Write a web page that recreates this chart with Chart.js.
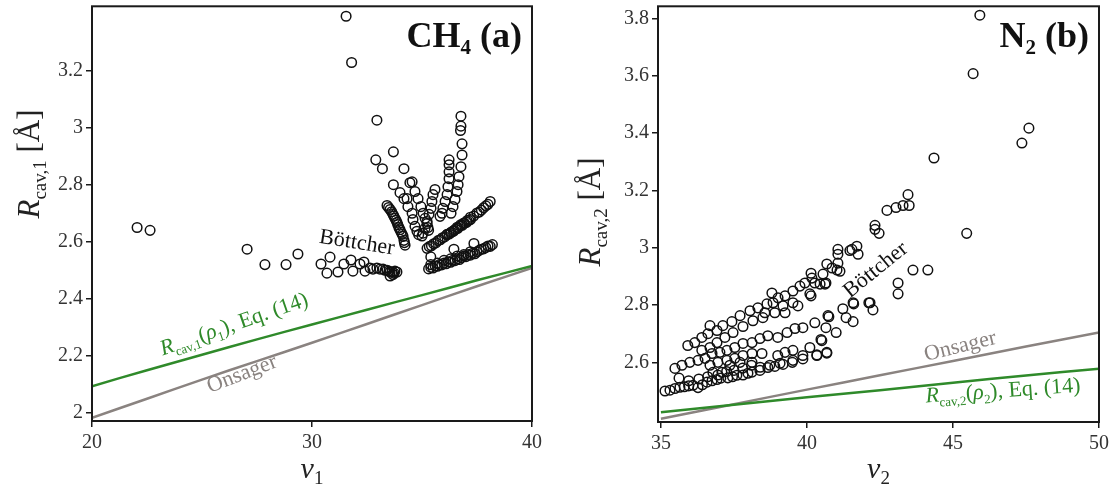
<!DOCTYPE html>
<html>
<head>
<meta charset="utf-8">
<script src="https://cdn.jsdelivr.net/npm/chart.js@4.4.0/dist/chart.umd.min.js"></script>
<style>
    html, body { margin: 0; padding: 0; background: #fff; }
    #wrap { position: relative; width: 1118px; height: 490px; overflow: hidden; }
    #c1 { position: absolute; left: 0; top: 0; }
    #c2 { position: absolute; left: 545px; top: 0; }
</style>
</head>
<body>
<div id="wrap">
    <canvas id="c1" width="545" height="490"></canvas>
    <canvas id="c2" width="573" height="490"></canvas>
</div>
<script>
// ──────────────────────────────────────────────
//  Data — panel (a) CH4, Böttcher points
// ──────────────────────────────────────────────
const ch4LooseX = [22.05, 22.64, 27.05, 27.86, 28.82, 29.36, 31.55, 31.8];
const ch4LooseY = [2.650, 2.640, 2.574, 2.520, 2.520, 2.557, 3.390, 3.228];

const ch4LowRowX = [30.41, 30.68, 30.82, 31.18, 31.45, 31.77, 31.86, 32.18, 32.36, 32.41, 32.64, 32.77,
    32.95, 33.09, 33.23, 33.32, 33.41, 33.50, 33.55, 33.64, 33.73, 33.77, 33.55, 33.68, 33.86];
const ch4LowRowY = [2.522, 2.490, 2.546, 2.494, 2.522, 2.536, 2.497, 2.522, 2.529, 2.497, 2.508, 2.504,
    2.508, 2.504, 2.504, 2.500, 2.500, 2.497, 2.494, 2.494, 2.490, 2.497, 2.480, 2.485, 2.494];

const ch4FanX = [32.95, 33.70, 32.90, 33.20, 34.18, 33.70, 34.45, 34.00, 34.18,
    33.41, 33.48, 33.55, 33.62, 33.68, 33.72, 33.77, 33.82, 33.86, 33.90, 33.95, 34.00, 34.05, 34.10, 34.14, 34.18, 34.20, 34.23];
const ch4FanY = [3.026, 2.915, 2.887, 2.856, 2.856, 2.800, 2.807, 2.772, 2.751,
    2.727, 2.720, 2.713, 2.705, 2.696, 2.690, 2.682, 2.675, 2.668, 2.660, 2.650, 2.642, 2.633, 2.626, 2.619, 2.605, 2.597, 2.588];

const ch4VeeX = [34.55, 34.68, 34.82, 34.95, 35.05, 35.14, 35.23, 35.27, 35.30,
    34.32, 34.36, 34.55, 34.59, 34.68, 34.77, 34.85,
    35.00, 35.05, 35.14, 35.23, 35.32, 35.41, 35.45, 35.50, 35.59,
    35.82, 35.91, 35.95, 36.05, 36.14, 36.18, 36.23, 36.23, 36.23, 36.23,
    36.77, 36.77, 36.75, 36.82, 36.82, 36.77, 36.68, 36.64, 36.59, 36.50, 36.41, 36.32];
const ch4VeeY = [2.810, 2.776, 2.751, 2.723, 2.700, 2.682, 2.664, 2.650, 2.640,
    2.751, 2.723, 2.700, 2.678, 2.654, 2.637, 2.625,
    2.620, 2.630, 2.647, 2.671, 2.696, 2.717, 2.741, 2.765, 2.783,
    2.689, 2.700, 2.717, 2.741, 2.765, 2.793, 2.821, 2.845, 2.870, 2.887,
    3.040, 3.005, 2.990, 2.943, 2.904, 2.863, 2.828, 2.800, 2.776, 2.748, 2.723, 2.700];

const ch4BandLowX = [35.30, 35.40, 35.50, 35.60, 35.70, 35.80, 35.90, 36.00, 36.10, 36.20, 36.30, 36.40, 36.50,
    36.60, 36.70, 36.80, 36.90, 37.00, 37.10, 37.20, 37.30, 37.40, 37.50, 37.60, 37.70, 37.80, 37.90, 38.00,
    38.10, 38.20, 35.40, 35.70, 36.00, 36.30, 36.60, 36.90, 37.20, 35.40, 36.45, 37.36];
const ch4BandLowY = [2.505, 2.510, 2.508, 2.515, 2.514, 2.520, 2.519, 2.525, 2.523, 2.530, 2.528, 2.535, 2.534,
    2.540, 2.538, 2.545, 2.550, 2.548, 2.555, 2.553, 2.560, 2.558, 2.565, 2.570, 2.574, 2.575, 2.580, 2.585,
    2.584, 2.590, 2.520, 2.525, 2.535, 2.540, 2.550, 2.555, 2.565, 2.547, 2.574, 2.594];

const ch4BandUpX = [35.23, 35.33, 35.43, 35.53, 35.63, 35.73, 35.83, 35.93, 36.03, 36.13, 36.23, 36.33, 36.43,
    36.53, 36.63, 36.73, 36.83, 36.93, 37.03, 37.13, 37.20,
    36.14, 36.30, 36.45, 36.60, 36.75, 36.90, 37.05, 37.20, 37.35, 37.50, 37.60, 37.70, 37.80, 37.90, 38.00, 38.10];
const ch4BandUpY = [2.577, 2.583, 2.586, 2.593, 2.596, 2.604, 2.607, 2.614, 2.617, 2.624, 2.627, 2.634, 2.637,
    2.644, 2.647, 2.655, 2.658, 2.665, 2.668, 2.675, 2.678,
    2.626, 2.631, 2.640, 2.651, 2.659, 2.666, 2.674, 2.686, 2.690, 2.701, 2.704, 2.711, 2.719, 2.726, 2.731, 2.741];

// ──────────────────────────────────────────────
//  Data — panel (b) N2, Böttcher points
// ──────────────────────────────────────────────
const n2Row1X = [35.14, 35.31, 35.48, 35.65, 35.80, 35.95, 36.10, 36.27, 36.42, 36.58, 36.75, 36.92, 37.05, 37.29,
    37.45, 37.60, 37.81, 37.98, 38.12, 38.39, 38.66, 38.90, 39.18, 39.50, 39.86, 40.34, 40.68];
const n2Row1Y = [2.500, 2.503, 2.509, 2.513, 2.515, 2.518, 2.520, 2.512, 2.522, 2.531, 2.536, 2.540, 2.545, 2.546,
    2.550, 2.555, 2.556, 2.562, 2.566, 2.572, 2.582, 2.586, 2.593, 2.600, 2.612, 2.626, 2.632];

const n2Row1bX = [35.62, 35.95, 36.30, 36.60, 36.78, 36.95, 37.09, 37.25, 37.50, 37.80, 38.10, 38.40, 38.73, 39.08, 39.52];
const n2Row1bY = [2.545, 2.536, 2.542, 2.550, 2.565, 2.556, 2.565, 2.568, 2.572, 2.580, 2.590, 2.583, 2.590, 2.597, 2.607];

const n2Row2X = [35.48, 35.72, 35.99, 36.27, 36.51, 36.75, 37.02, 37.26, 37.53, 37.81, 38.12, 38.39, 38.66, 39.00,
    39.32, 39.59, 39.86, 40.27, 40.72, 41.23, 41.58, 42.16, 42.26];
const n2Row2Y = [2.579, 2.590, 2.600, 2.607, 2.614, 2.631, 2.635, 2.642, 2.652, 2.666, 2.669, 2.683, 2.693, 2.687,
    2.704, 2.718, 2.721, 2.738, 2.763, 2.787, 2.808, 2.808, 2.783];

const n2Row2bX = [36.68, 36.95, 37.26, 37.36, 37.53, 37.71, 37.81, 38.12, 38.12, 38.46, 39.00, 39.25, 39.52, 39.86,
    40.10, 40.34, 40.51, 40.68, 41.00, 41.34, 41.58, 40.75, 40.65, 40.48];
const n2Row2bY = [2.590, 2.600, 2.607, 2.590, 2.614, 2.600, 2.624, 2.631, 2.600, 2.631, 2.624, 2.635, 2.642, 2.624,
    2.652, 2.624, 2.676, 2.635, 2.704, 2.756, 2.742, 2.759, 2.721, 2.680];

const n2Row3X = [36.40, 36.68, 36.92, 37.19, 37.47, 37.81, 38.15, 38.49, 38.56, 38.90, 39.25, 39.69, 39.52, 40.10,
    40.62, 40.14, 40.65];
const n2Row3Y = [2.642, 2.652, 2.669, 2.687, 2.704, 2.725, 2.745, 2.756, 2.773, 2.773, 2.773, 2.797, 2.808, 2.839,
    2.873, 2.832, 2.877];

const n2Row4X = [35.92, 36.16, 36.40, 36.61, 36.68, 36.92, 37.12, 37.43, 37.71, 38.05, 38.32, 38.63, 38.84, 39.18,
    38.80, 39.01, 39.25, 39.52, 39.76, 39.93, 40.17, 40.27, 40.45, 40.55, 40.68, 40.86, 41.06, 41.06, 41.06,
    41.13, 41.54, 41.71, 41.75, 40.14, 41.47, 41.03];
const n2Row4Y = [2.659, 2.669, 2.687, 2.700, 2.728, 2.711, 2.728, 2.742, 2.763, 2.780, 2.790, 2.804, 2.808, 2.797,
    2.842, 2.825, 2.832, 2.849, 2.866, 2.877, 2.894, 2.877, 2.873, 2.908, 2.943, 2.929, 2.946, 2.977, 2.994,
    2.918, 2.994, 3.005, 2.977, 2.911, 2.990, 2.922];

const n2LooseX = [42.33, 42.33, 42.47, 42.74, 43.05, 43.29, 43.50, 43.46, 44.35, 43.63, 44.14, 43.12, 43.12,
    42.12, 41.60, 45.47, 45.69, 45.92, 47.36, 47.60];
const n2LooseY = [3.078, 3.064, 3.050, 3.130, 3.140, 3.147, 3.147, 3.185, 3.313, 2.922, 2.922, 2.877, 2.839,
    2.808, 2.804, 3.050, 3.607, 3.811, 3.365, 3.417];

// ──────────────────────────────────────────────
//  Data — model curves
// ──────────────────────────────────────────────
const ch4CurveX = [20, 22.5, 25, 27.5, 30, 32.5, 35, 37.5, 40];
const ch4Eq14Y = [2.094, 2.150, 2.204, 2.258, 2.310, 2.362, 2.413, 2.465, 2.515];
const ch4OnsagerY = [1.983, 2.050, 2.117, 2.182, 2.246, 2.312, 2.378, 2.444, 2.508];

const n2CurveX = [35, 37.5, 40, 42.5, 45, 47.5, 50];
const n2Eq14Y = [2.426, 2.452, 2.478, 2.503, 2.529, 2.554, 2.578];
const n2OnsagerY = [2.403, 2.454, 2.505, 2.555, 2.605, 2.655, 2.704];

// Tick labels
const ch4XTicks = [20, 30, 40];
const ch4YTicks = [2, 2.2, 2.4, 2.6, 2.8, 3, 3.2];
const n2XTicks = [35, 40, 45, 50];
const n2YTicks = [2.6, 2.8, 3, 3.2, 3.4, 3.6, 3.8];

// ──────────────────────────────────────────────
//  Style
// ──────────────────────────────────────────────
const SERIF = '"Liberation Serif", "DejaVu Serif", serif';
const GREEN = '#2f8a2a';
const GRAY = '#8a8380';
const INK = '#1a1a1a';

function zip(xs, ys) {
    return xs.map((x, i) => ({ x: x, y: ys[i] }));
}

function concatPairs(groups) {
    return groups.reduce((all, g) => all.concat(zip(g[0], g[1])), []);
}

function font(size, style) {
    return `${style || ''} ${size}px ${SERIF}`;
}

// Draw text made of several runs (for subscripts), rotated about (x, y)
function drawRuns(ctx, runs, x, y, angle, color, align, vOff) {
    ctx.save();
    ctx.translate(x, y);
    ctx.rotate(angle * Math.PI / 180);
    ctx.fillStyle = color;
    ctx.textBaseline = 'alphabetic';
    ctx.textAlign = 'left';
    let total = 0;
    runs.forEach(r => { ctx.font = r.font; total += ctx.measureText(r.text).width; });
    let cx = align === 'right' ? -total : (align === 'left' ? 0 : -total / 2);
    runs.forEach(r => {
        ctx.font = r.font;
        ctx.fillText(r.text, cx, (r.dy || 0) + (vOff || 0));
        cx += ctx.measureText(r.text).width;
    });
    ctx.restore();
}

// Frame + all the text that Chart.js can't set (subscripts, rotated notes)
const decorPlugin = {
    id: 'decor',
    afterDatasetsDraw(chart, args, opts) {
        const { ctx, chartArea: a, scales } = chart;
        ctx.save();
        ctx.strokeStyle = INK;
        ctx.lineWidth = 2;
        ctx.strokeRect(a.left, a.top, a.right - a.left, a.bottom - a.top);
        ctx.restore();

        (opts.notes || []).forEach(n => {
            const px = scales.x.getPixelForValue(n.x);
            const py = scales.y.getPixelForValue(n.y);
            drawRuns(ctx, n.runs, px, py, n.angle, n.color, 'center', 7);
        });

        // panel title, top right
        drawRuns(ctx, opts.title, a.right - 10, a.top + 41, 0, '#111', 'right', 0);
        // x axis title
        drawRuns(ctx, opts.xTitle, (a.left + a.right) / 2, 478, 0, '#222', 'center', 0);
        // y axis title
        drawRuns(ctx, opts.yTitle, opts.yTitleX, opts.yTitleY, -90, '#222', 'center', 0);
    }
};

function makePanel(canvasId, p) {
    const tickFont = { family: SERIF, size: 20 };
    return new Chart(document.getElementById(canvasId), {
        type: 'scatter',
        data: {
            datasets: [
                {
                    type: 'line',
                    data: zip(p.curveX, p.eq14Y),
                    showLine: true,
                    borderColor: GREEN,
                    borderWidth: 2.5,
                    pointRadius: 0,
                    tension: 0.4,
                    fill: false,
                    order: 2,
                },
                {
                    type: 'line',
                    data: zip(p.curveX, p.onsagerY),
                    showLine: true,
                    borderColor: GRAY,
                    borderWidth: 2.5,
                    pointRadius: 0,
                    tension: 0.4,
                    fill: false,
                    order: 3,
                },
                {
                    data: p.points,
                    pointStyle: 'circle',
                    pointRadius: 4.8,
                    pointBorderWidth: 1.5,
                    borderColor: '#111',
                    backgroundColor: 'rgba(0,0,0,0)',
                    order: 1,
                },
            ]
        },
        options: {
            responsive: false,
            animation: false,
            events: [],
            layout: { padding: { top: 3, right: p.padRight, left: 0, bottom: 0 } },
            plugins: {
                legend: { display: false },
                tooltip: { enabled: false },
                decor: {
                    notes: p.notes,
                    title: p.title,
                    xTitle: p.xTitle,
                    yTitle: p.yTitle,
                    yTitleX: p.yTitleX,
                    yTitleY: p.yTitleY,
                },
            },
            scales: {
                x: {
                    type: 'linear',
                    min: p.xMin,
                    max: p.xMax,
                    afterBuildTicks: s => { s.ticks = p.xTicks.map(v => ({ value: v })); },
                    afterFit: s => { s.height = p.xAxisH; s.paddingLeft = 0; s.paddingRight = 0; },
                    grid: { drawOnChartArea: false, drawTicks: true, tickLength: 6, color: INK, lineWidth: 1.5 },
                    border: { display: false },
                    ticks: { font: tickFont, color: '#333', padding: 4, maxRotation: 0, callback: v => String(v) },
                },
                y: {
                    type: 'linear',
                    min: p.yMin,
                    max: p.yMax,
                    afterBuildTicks: s => { s.ticks = p.yTicks.map(v => ({ value: v })); },
                    afterFit: s => { s.width = p.yAxisW; s.paddingTop = 0; s.paddingBottom = 0; },
                    grid: { drawOnChartArea: false, drawTicks: true, tickLength: 6, color: INK, lineWidth: 1.5 },
                    border: { display: false },
                    ticks: { font: tickFont, color: '#333', padding: 3, callback: v => String(v) },
                },
            }
        },
        plugins: [decorPlugin]
    });
}

// ──────────────────────────────────────────────
//  Panel (a) CH4
// ──────────────────────────────────────────────
makePanel('c1', {
    points: concatPairs([
        [ch4LooseX, ch4LooseY], [ch4LowRowX, ch4LowRowY], [ch4FanX, ch4FanY],
        [ch4VeeX, ch4VeeY], [ch4BandLowX, ch4BandLowY], [ch4BandUpX, ch4BandUpY],
    ]),
    curveX: ch4CurveX, eq14Y: ch4Eq14Y, onsagerY: ch4OnsagerY,
    xMin: 20, xMax: 40, yMin: 1.972, yMax: 3.425,
    xTicks: ch4XTicks, yTicks: ch4YTicks,
    yAxisW: 92, xAxisH: 69, padRight: 13,
    title: [
        { text: 'CH', font: font(36, 'bold') },
        { text: '4', font: font(21, 'bold'), dy: 7 },
        { text: ' (a)', font: font(36, 'bold') },
    ],
    xTitle: [
        { text: 'ν', font: font(30, 'italic') },
        { text: '1', font: font(19), dy: 6 },
    ],
    yTitle: [
        { text: 'R', font: font(31, 'italic') },
        { text: 'cav,1', font: font(19), dy: 7 },
        { text: ' [Å]', font: font(31) },
    ],
    yTitleX: 39, yTitleY: 164,
    notes: [
        { x: 32.05, y: 2.60, angle: 9, color: '#111', runs: [{ text: 'Böttcher', font: font(22) }] },
        {
            x: 26.45, y: 2.313, angle: -19, color: GREEN, runs: [
                { text: 'R', font: font(22, 'italic') },
                { text: 'cav,1', font: font(13), dy: 5 },
                { text: '(', font: font(22) },
                { text: 'ρ', font: font(22, 'italic') },
                { text: '1', font: font(13), dy: 5 },
                { text: '), Eq. (14)', font: font(22) },
            ]
        },
        { x: 26.8, y: 2.139, angle: -21, color: GRAY, runs: [{ text: 'Onsager', font: font(22) }] },
    ],
});

// ──────────────────────────────────────────────
//  Panel (b) N2
// ──────────────────────────────────────────────
makePanel('c2', {
    points: concatPairs([
        [n2Row1X, n2Row1Y], [n2Row1bX, n2Row1bY], [n2Row2X, n2Row2Y], [n2Row2bX, n2Row2bY],
        [n2Row3X, n2Row3Y], [n2Row4X, n2Row4Y], [n2LooseX, n2LooseY],
    ]),
    curveX: n2CurveX, eq14Y: n2Eq14Y, onsagerY: n2OnsagerY,
    xMin: 34.9, xMax: 50, yMin: 2.392, yMax: 3.842,
    xTicks: n2XTicks, yTicks: n2YTicks,
    yAxisW: 113, xAxisH: 68, padRight: 19,
    title: [
        { text: 'N', font: font(36, 'bold') },
        { text: '2', font: font(21, 'bold'), dy: 7 },
        { text: ' (b)', font: font(36, 'bold') },
    ],
    xTitle: [
        { text: 'ν', font: font(30, 'italic') },
        { text: '2', font: font(19), dy: 6 },
    ],
    yTitle: [
        { text: 'R', font: font(31, 'italic') },
        { text: 'cav,2', font: font(19), dy: 7 },
        { text: ' [Å]', font: font(31) },
    ],
    yTitleX: 55, yTitleY: 212,
    notes: [
        { x: 42.33, y: 2.925, angle: -39, color: '#111', runs: [{ text: 'Böttcher', font: font(22) }] },
        { x: 45.24, y: 2.659, angle: -14, color: GRAY, runs: [{ text: 'Onsager', font: font(22) }] },
        {
            x: 46.71, y: 2.503, angle: -4, color: GREEN, runs: [
                { text: 'R', font: font(22, 'italic') },
                { text: 'cav,2', font: font(13), dy: 5 },
                { text: '(', font: font(22) },
                { text: 'ρ', font: font(22, 'italic') },
                { text: '2', font: font(13), dy: 5 },
                { text: '), Eq. (14)', font: font(22) },
            ]
        },
    ],
});
</script>
</body>
</html>
